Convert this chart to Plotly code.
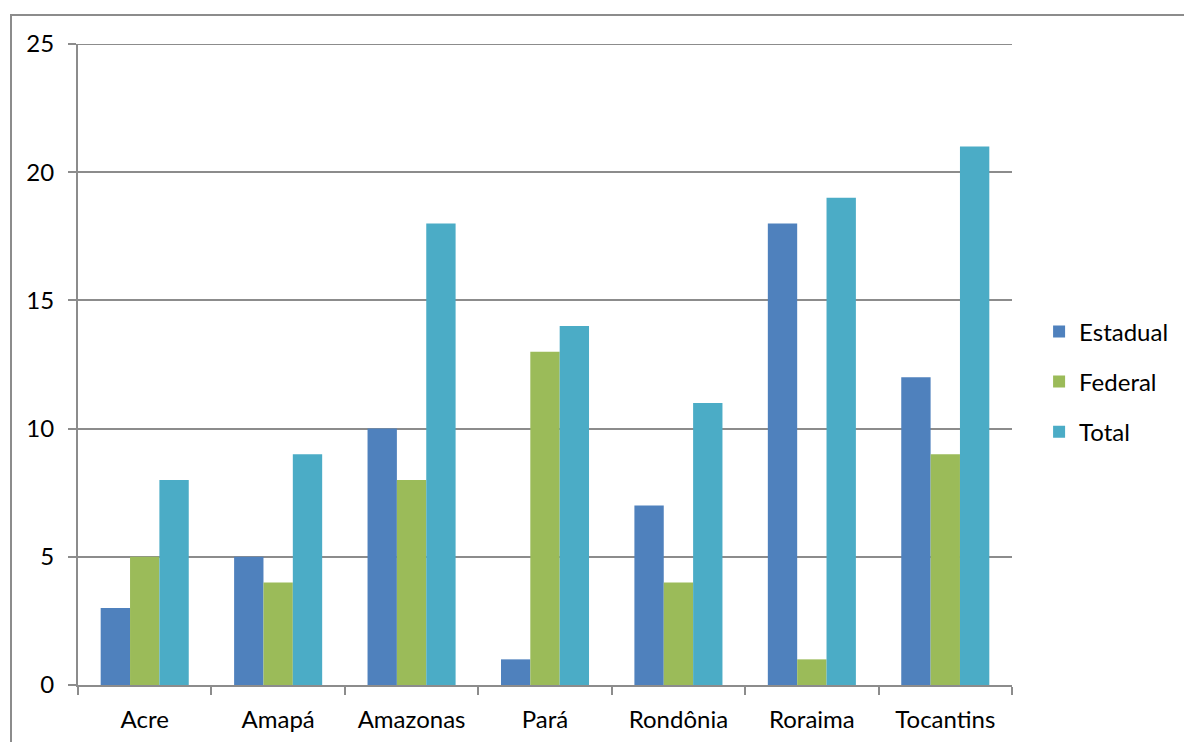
import plotly.graph_objects as go

categories = ["Acre", "Amapá", "Amazonas", "Pará", "Rondônia", "Roraima", "Tocantins"]
estadual = [3, 5, 10, 1, 7, 18, 12]
federal = [5, 4, 8, 13, 4, 1, 9]
total = [8, 9, 18, 14, 11, 19, 21]

series = [("Estadual", estadual, "#4F81BD"),
          ("Federal", federal, "#9BBB59"),
          ("Total", total, "#4BACC6")]

fig = go.Figure()
for name, vals, col in series:
    fig.add_trace(go.Bar(x=categories, y=vals, name=name, marker_color=col,
                         marker_line_width=0, legendgroup=name))

L, R, T, B = 78, 172, 44, 57
W, H = 1184, 742
pw, ph = W - L - R, H - T - B
font = "Lato, 'Open Sans', sans-serif"

fig.update_layout(
    width=W, height=H,
    margin=dict(l=L, r=R, t=T, b=B, pad=0, autoexpand=False),
    paper_bgcolor="white", plot_bgcolor="white",
    barmode="group", bargap=0.34, bargroupgap=0,
    font=dict(family=font, size=24, color="black"),
    showlegend=True,
    legend=dict(x=1.029, y=0.473, xanchor="left", yanchor="middle",
                traceorder="grouped", tracegroupgap=16,
                font=dict(size=24), itemwidth=30),
    xaxis=dict(showline=True, linecolor="#8c8c8c", linewidth=2,
               ticks="outside", tickson="boundaries", ticklen=8,
               tickcolor="#8c8c8c", tickwidth=2, showgrid=False,
               tickfont=dict(size=24), ticklabelstandoff=12),
    yaxis=dict(range=[0, 25], tickvals=[0, 5, 10, 15, 20, 25],
               showline=True, linecolor="#8c8c8c", linewidth=2,
               ticks="outside", ticklen=8, tickcolor="#8c8c8c", tickwidth=2,
               showgrid=True, gridcolor="#8c8c8c", gridwidth=1.5,
               zeroline=False, tickfont=dict(size=24), ticklabelstandoff=9),
)

# top gridline at 25
fig.add_shape(type="line", xref="paper", yref="y", x0=0, x1=1, y0=25, y1=25,
              line=dict(color="#8c8c8c", width=2), layer="below")

# outer chart frame
fig.add_shape(type="rect", xref="paper", yref="paper",
              x0=(11 - L) / pw, x1=1.4, y0=-0.3, y1=(H - B - 15) / ph,
              line=dict(color="#8c8c8c", width=2), layer="below")

fig.write_html("out.html")
